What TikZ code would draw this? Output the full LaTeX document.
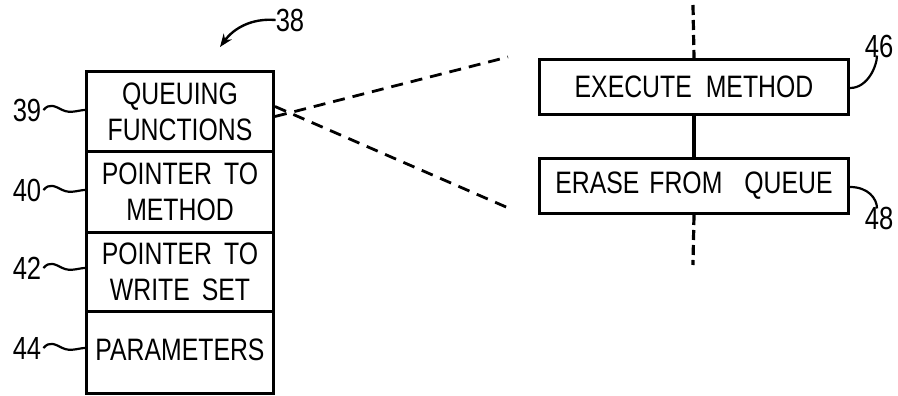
\documentclass[tikz,border=0pt]{standalone}
\usepackage{fontspec}
\setmainfont{Liberation Sans}[FakeStretch=0.8]
\usetikzlibrary{arrows.meta}
\begin{document}
\begin{tikzpicture}[x=1pt,y=-1pt,
  every node/.style={font=\fontsize{31}{36}\selectfont, inner sep=0pt},
  cell/.style={draw, line width=3pt, minimum width=187pt, align=center, anchor=north west},
  stepbox/.style={draw, line width=3pt, minimum width=309pt, minimum height=55pt, anchor=north west},
  refnum/.style={font=\fontsize{32}{36}\selectfont},
  leader/.style={line width=2.2pt},
  zoomline/.style={line width=2.8pt, dash pattern=on 12pt off 8pt},
  flowdash/.style={line width=3.2pt, dash pattern=on 10pt off 5pt},
  flow/.style={line width=3.2pt}]
\useasboundingbox (0,0) rectangle (898,396);

% record layout: four stacked cells
\node[cell, minimum height=80pt] (q) at (85,70)
  {QUEUING\\FUNCTIONS};
\node[cell, minimum height=81pt] (p) at (85,150)
  {POINTER\hspace{12pt}TO\\METHOD};
\node[cell, minimum height=79pt] (w) at (85,231)
  {POINTER\hspace{12pt}TO\\WRITE\hspace{12pt}SET};
\node[cell, minimum height=82pt] (pa) at (85,310)
  {\raisebox{5pt}{PARAMETERS}};

% reference numerals on the left with wavy leaders
\node[refnum] (n39) at (27,110) {39};
\node[refnum] (n40) at (27,190) {40};
\node[refnum] (n42) at (27,268) {42};
\node[refnum] (n44) at (27,348) {44};
\foreach \n/\c in {n39/q, n40/p, n42/w, n44/pa}{
  \draw[leader] ([xshift=2pt]\n.east) .. controls +(6,-7) and +(-8,-4) .. ++(19,0)
    .. controls +(8,4) and +(-6,0) .. (\c.west |- \n.east);
}

% numeral 38 with curved arrow
\node[refnum] (n38) at (290,20) {38};
\coordinate (t38) at (220,47);
\draw[line width=2.4pt, -{Stealth[length=13pt,width=10pt]}]
  (n38.west) .. controls (252,18) and (234,28) .. (t38);

% expanded queuing functions
\node[stepbox] (ex) at (538,58) {EXECUTE\hspace{14pt}METHOD};
\node[stepbox] (er) at (538,157) {ERASE\hspace{10pt}FROM\hspace{22pt}QUEUE};

\coordinate (topend) at (693,5);
\coordinate (botend) at (693,265);
\draw[flowdash] (topend) -- (ex.north);
\draw[flow] (ex.south) -- (er.north);
\draw[flowdash] (er.south) -- (botend);

% dashed projection lines
\coordinate (za) at (508,57);
\coordinate (zb) at (513,210);
\draw[zoomline] ([yshift=-5pt]q.east) -- (za);
\draw[zoomline] ([yshift=5pt]q.east) -- (zb);

% numerals 46 and 48
\node[refnum] (n46) at (879,46) {46};
\node[refnum] (n48) at (879,218) {48};
\draw[leader] ([yshift=-1pt]ex.east) .. controls +(18,0) and +(0,10) .. ([xshift=-2pt,yshift=2pt]n46.south);
\draw[leader] ([yshift=-1pt]er.east) .. controls +(18,0) and +(0,-10) .. ([xshift=-2pt,yshift=-2pt]n48.north);
\end{tikzpicture}
\end{document}
